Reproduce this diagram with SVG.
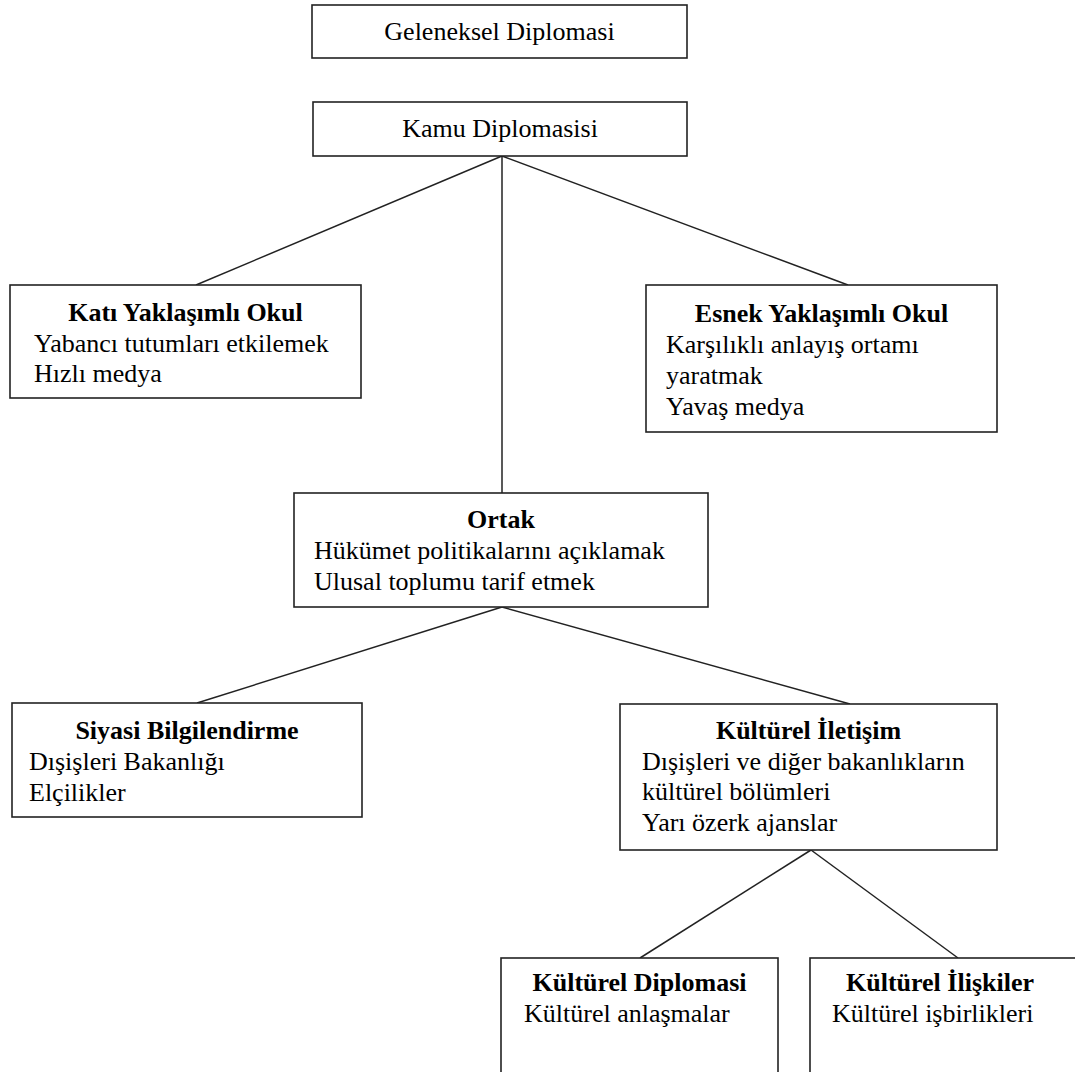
<svg xmlns="http://www.w3.org/2000/svg" width="1075" height="1072" viewBox="0 0 1075 1072">
<style>
.box{fill:#fff;stroke:#222;stroke-width:1.6}
.ln{stroke:#222;stroke-width:1.5;fill:none}
text{font-family:"Liberation Serif","Times New Roman",serif;font-size:26px;fill:#000}
.t{font-weight:bold;text-anchor:middle}
.c{text-anchor:middle}
</style>
<rect width="1075" height="1072" fill="#fff"/>
<g id="connectors">
<line class="ln" x1="502" y1="156" x2="196" y2="285"/>
<line class="ln" x1="502" y1="156" x2="848" y2="285"/>
<line class="ln" x1="502" y1="156" x2="502" y2="493"/>
<line class="ln" x1="502" y1="607" x2="197" y2="703"/>
<line class="ln" x1="502" y1="607" x2="850" y2="704"/>
<line class="ln" x1="811" y1="850" x2="640" y2="958"/>
<line class="ln" x1="811" y1="850" x2="958" y2="958"/>
</g>
<g id="geleneksel">
<rect class="box" x="312" y="5" width="375" height="53"/>
<text class="c" x="499.5" y="40">Geleneksel Diplomasi</text>
</g>
<g id="kamu">
<rect class="box" x="313" y="102" width="374" height="54"/>
<text class="c" x="500" y="137">Kamu Diplomasisi</text>
</g>
<g id="kati">
<rect class="box" x="10" y="285" width="351" height="113"/>
<text class="t" x="185.5" y="321">Katı Yaklaşımlı Okul</text>
<text x="34" y="352">Yabancı tutumları etkilemek</text>
<text x="34" y="382">Hızlı medya</text>
</g>
<g id="esnek">
<rect class="box" x="646" y="285" width="351" height="147"/>
<text class="t" x="821.5" y="322">Esnek Yaklaşımlı Okul</text>
<text x="666" y="353">Karşılıklı anlayış  ortamı</text>
<text x="666" y="384">yaratmak</text>
<text x="666" y="415">Yavaş medya</text>
</g>
<g id="ortak">
<rect class="box" x="294" y="493" width="414" height="114"/>
<text class="t" x="501" y="528">Ortak</text>
<text x="314" y="559">Hükümet politikalarını  açıklamak</text>
<text x="314" y="590">Ulusal toplumu tarif etmek</text>
</g>
<g id="siyasi">
<rect class="box" x="12" y="703" width="350" height="114"/>
<text class="t" x="187" y="739">Siyasi Bilgilendirme</text>
<text x="29" y="770">Dışişleri Bakanlığı</text>
<text x="29" y="801">Elçilikler</text>
</g>
<g id="kulturel-iletisim">
<rect class="box" x="620" y="704" width="377" height="146"/>
<text class="t" x="808.5" y="739">Kültürel İletişim</text>
<text x="642" y="770">Dışişleri ve diğer bakanlıkların</text>
<text x="642" y="800">kültürel bölümleri</text>
<text x="642" y="831">Yarı özerk ajanslar</text>
</g>
<g id="kulturel-diplomasi">
<rect class="box" x="501" y="958" width="277" height="130"/>
<text class="t" x="639.5" y="991">Kültürel Diplomasi</text>
<text x="524" y="1022">Kültürel anlaşmalar</text>
</g>
<g id="kulturel-iliskiler">
<rect class="box" x="810" y="958" width="270" height="130"/>
<text class="t" x="940" y="991">Kültürel İlişkiler</text>
<text x="832" y="1022">Kültürel işbirlikleri</text>
</g>
</svg>
